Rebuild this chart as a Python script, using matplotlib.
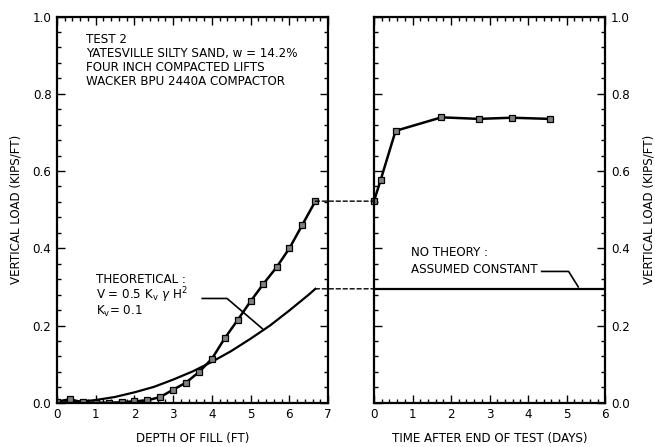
import numpy as np
import matplotlib
matplotlib.use("Agg")
import matplotlib.pyplot as plt
from matplotlib.patches import ConnectionPatch
from matplotlib.ticker import MultipleLocator, FormatStrFormatter

# Datos
depth = [0.0, 0.33, 0.67, 1.0, 1.33, 1.67, 2.0, 2.33, 2.67, 3.0, 3.33, 3.67,
         4.0, 4.33, 4.67, 5.0, 5.33, 5.67, 6.0, 6.33, 6.67]
load_fill = [0.003, 0.009, 0.001, 0.0, 0.0, 0.001, 0.004, 0.006, 0.015, 0.034, 0.052,
             0.080, 0.114, 0.167, 0.215, 0.263, 0.308, 0.351, 0.400, 0.460, 0.522]

theory_depth = [0.0, 0.5, 1.0, 1.5, 2.0, 2.5, 3.0, 3.5, 4.0, 4.5, 5.0, 5.5, 6.0, 6.5, 6.67]
theory_load = [0.0, 0.002, 0.007, 0.015, 0.027, 0.041, 0.060, 0.081, 0.106, 0.134,
               0.166, 0.200, 0.239, 0.280, 0.295]

days = [0.0, 0.17, 0.56, 1.75, 2.72, 3.57, 4.56]
load_time = [0.522, 0.576, 0.704, 0.739, 0.735, 0.738, 0.735]
theory_const = 0.295

fs = 8.6
plt.rcParams['font.family'] = ['DejaVu Sans']
plt.rcParams['font.size'] = fs

fig = plt.figure(figsize=(6.55, 4.47), dpi=100)
ax1 = fig.add_axes([0.087, 0.099, 0.414, 0.864])
ax2 = fig.add_axes([0.571, 0.099, 0.353, 0.864])

# Panel izquierdo
ax1.plot(theory_depth, theory_load, color='black', lw=1.6)
ax1.plot(depth, load_fill, color='black', lw=1.8, marker='s', ms=4.5,
         mfc='#808080', mec='black', mew=0.9)
ax1.set_xlim(0, 7)
ax1.set_ylim(0, 1.0)
ax1.xaxis.set_major_locator(MultipleLocator(1))
ax1.xaxis.set_minor_locator(MultipleLocator(0.2))
ax1.yaxis.set_major_locator(MultipleLocator(0.2))
ax1.yaxis.set_minor_locator(MultipleLocator(0.04))
ax1.yaxis.set_major_formatter(FormatStrFormatter('%.1f'))
ax1.set_xlabel('DEPTH OF FILL (FT)', labelpad=8)
ax1.set_ylabel('VERTICAL LOAD (KIPS/FT)', labelpad=7)

ax1.text(0.75, 0.958, 'TEST 2\nYATESVILLE SILTY SAND, w = 14.2%\n'
         'FOUR INCH COMPACTED LIFTS\nWACKER BPU 2440A COMPACTOR',
         va='top', ha='left', linespacing=1.1)
ax1.text(1.02, 0.318, 'THEORETICAL :', va='center')
ax1.text(1.02, 0.278, r'V = 0.5 K$_\mathregular{v}$ $\gamma$ H$^\mathregular{2}$', va='center')
ax1.text(1.02, 0.237, r'K$_\mathregular{v}$= 0.1', va='center')
ax1.plot([3.75, 4.39, 5.3], [0.270, 0.270, 0.192], color='black', lw=1.2)

# Panel derecho
ax2.axhline(theory_const, color='black', lw=1.6)
ax2.plot(days, load_time, color='black', lw=1.8, marker='s', ms=4.5,
         mfc='#808080', mec='black', mew=0.9, clip_on=False)
ax2.set_xlim(0, 6)
ax2.set_ylim(0, 1.0)
ax2.xaxis.set_major_locator(MultipleLocator(1))
ax2.xaxis.set_minor_locator(MultipleLocator(0.2))
ax2.yaxis.set_major_locator(MultipleLocator(0.2))
ax2.yaxis.set_minor_locator(MultipleLocator(0.04))
ax2.yaxis.set_major_formatter(FormatStrFormatter('%.1f'))
ax2.yaxis.set_label_position('right')
ax2.set_xlabel('TIME AFTER END OF TEST (DAYS)', labelpad=8)
ax2.set_ylabel('VERTICAL LOAD (KIPS/FT)', labelpad=9)
ax2.text(0.97, 0.39, 'NO THEORY :', va='center')
ax2.text(0.97, 0.344, 'ASSUMED CONSTANT', va='center')
ax2.plot([4.35, 5.05, 5.3], [0.340, 0.340, 0.300], color='black', lw=1.2)

for ax in (ax1, ax2):
    for s in ax.spines.values():
        s.set_linewidth(1.6)
    ax.tick_params(which='both', direction='in', top=True, right=True, width=1.0)
    ax.tick_params(which='major', length=6, pad=4)
    ax.tick_params(which='minor', length=3)
ax2.tick_params(axis='y', labelleft=False, labelright=True)

# Lineas discontinuas entre paneles
for ya in (load_fill[-1], theory_load[-1]):
    con = ConnectionPatch(xyA=(depth[-1], ya), coordsA=ax1.transData,
                          xyB=(0, ya), coordsB=ax2.transData,
                          linestyle=(0, (3, 2)), color='black', lw=1.0)
    fig.add_artist(con)

fig.savefig('out.png', dpi=100)
